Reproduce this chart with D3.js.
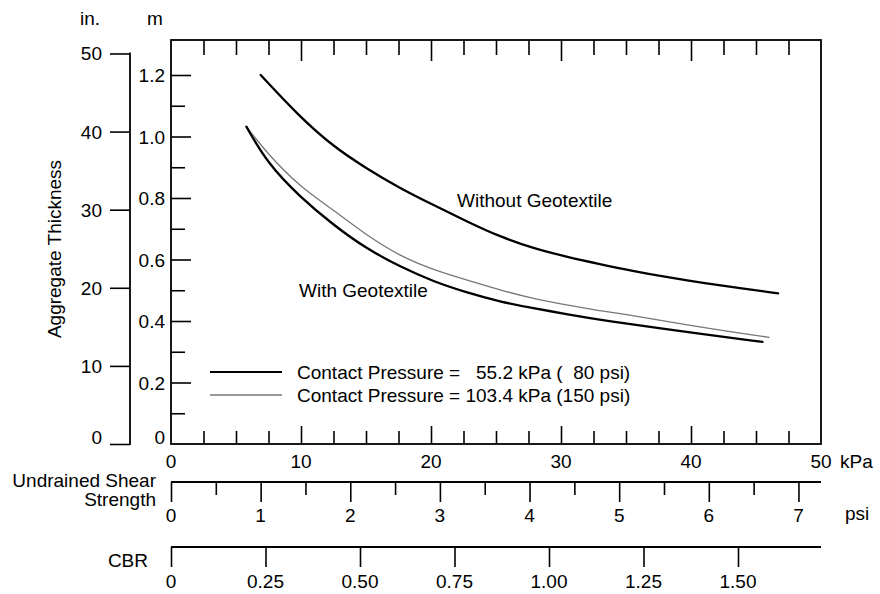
<!DOCTYPE html>
<html>
<head>
<meta charset="utf-8">
<script src="https://cdn.jsdelivr.net/npm/d3@7"></script>
<style>
  html, body { margin: 0; padding: 0; background: #fff; }
  svg { display: block; }
  text { font-family: "Liberation Sans", Arial, Helvetica, sans-serif; fill: #000; }
</style>
</head>
<body>
<svg id="chart" width="880" height="594"></svg>
<script>
// ---------------- data ----------------
const kpaTickLabels = [0, 10, 20, 30, 40, 50];
const psiTickLabels = [0, 1, 2, 3, 4, 5, 6, 7];
const cbrTickLabels = [0, 0.25, 0.50, 0.75, 1.00, 1.25, 1.50];
const inchTickLabels = [0, 10, 20, 30, 40, 50];
const meterTickLabels = [0, 0.2, 0.4, 0.6, 0.8, 1.0, 1.2];

// Without geotextile (contact pressure 55.2 kPa)
const withoutKpa = [6.9, 9.9, 12.5, 15.0, 17.6, 20.2, 22.8, 25.3, 27.9, 30.4, 33.0, 35.5, 38.1, 40.7, 43.2, 46.7];
const withoutM   = [1.200, 1.064, 0.967, 0.897, 0.832, 0.777, 0.723, 0.674, 0.636, 0.609, 0.585, 0.563, 0.543, 0.525, 0.510, 0.490];

// With geotextile, 55.2 kPa (80 psi)
const with80Kpa = [5.8, 7.4, 9.9, 12.5, 15.0, 17.6, 20.2, 22.8, 25.3, 27.9, 30.4, 33.0, 40.7, 45.5];
const with80M   = [1.032, 0.914, 0.804, 0.712, 0.636, 0.577, 0.528, 0.492, 0.463, 0.441, 0.423, 0.403, 0.358, 0.332];

// With geotextile, 103.4 kPa (150 psi)
const with150Kpa = [5.8, 7.4, 9.9, 12.5, 15.0, 17.6, 20.2, 22.8, 25.3, 27.9, 30.4, 33.0, 34.5, 40.7, 46.0];
const with150M   = [1.032, 0.945, 0.837, 0.761, 0.680, 0.611, 0.566, 0.533, 0.501, 0.472, 0.452, 0.433, 0.425, 0.380, 0.347];

const legendLabels = ["Contact Pressure =   55.2 kPa (  80 psi)", "Contact Pressure = 103.4 kPa (150 psi)"];

// ---------------- layout ----------------
const svg = d3.select("#chart");
const FS = 19;
const L = 171, R = 821, T = 40, B = 444;

const x = d3.scaleLinear().domain([0, 50]).range([L, R]);           // kPa
const y = d3.scaleLinear().domain([0, 1.2]).range([B, 75]);         // m
const yIn = d3.scaleLinear().domain([0, 50]).range([y(0), y(50 * 0.0254)]); // inches
const xPsi = d3.scaleLinear().domain([0, 50 / 6.895]).range([L, R]);
const xCbr = d3.scaleLinear().domain([0, 1.5]).range([L, 738]);

svg.append("rect").attr("width", 880).attr("height", 594).attr("fill", "#fff");

// frame
svg.append("rect").attr("x", L).attr("y", T).attr("width", R - L).attr("height", B - T)
  .attr("fill", "none").attr("stroke", "#000").attr("stroke-width", 1.8);

function noDomain(g) { g.select(".domain").remove(); g.selectAll("text").remove(); g.selectAll("line").attr("stroke-width", 1.6); }

const kMinor = d3.range(2.5, 50, 2.5).filter(v => v % 10 !== 0);
const kMajor = [10, 20, 30, 40];

// bottom ticks (pointing up)
svg.append("g").attr("transform", `translate(0,${B})`).call(d3.axisTop(x).tickValues(kMinor).tickSize(13)).call(noDomain);
svg.append("g").attr("transform", `translate(0,${B})`).call(d3.axisTop(x).tickValues(kMajor).tickSize(18)).call(noDomain);
// top ticks (pointing down)
svg.append("g").attr("transform", `translate(0,${T})`).call(d3.axisBottom(x).tickValues(kMinor).tickSize(15)).call(noDomain);
svg.append("g").attr("transform", `translate(0,${T})`).call(d3.axisBottom(x).tickValues(kMajor).tickSize(21)).call(noDomain);

// kPa labels
svg.append("g").selectAll("text").data(kpaTickLabels).join("text")
  .attr("x", d => x(d)).attr("y", 468).attr("text-anchor", "middle").attr("font-size", FS).text(d => d);
svg.append("text").attr("x", 840).attr("y", 468).attr("font-size", FS).text("kPa");

// left m axis ticks (pointing right, into plot)
const mMinor = d3.range(0.1, 1.25, 0.2);
const mMajor = [0.2, 0.4, 0.6, 0.8, 1.0, 1.2];
svg.append("g").attr("transform", `translate(${L},0)`).call(d3.axisLeft(y).tickValues(mMinor).tickSize(-14)).call(noDomain);
svg.append("g").attr("transform", `translate(${L},0)`).call(d3.axisLeft(y).tickValues(mMajor).tickSize(-20)).call(noDomain);
svg.append("g").selectAll("text").data(meterTickLabels).join("text")
  .attr("x", 165).attr("y", d => y(d) + 7 - (d === 0 ? 7 : 0)).attr("text-anchor", "end").attr("font-size", FS)
  .text(d => d === 0 ? "0" : d3.format(".1f")(d));
svg.append("text").attr("x", 155).attr("y", 25).attr("text-anchor", "middle").attr("font-size", FS).text("m");

// inches axis
const inX = 130;
svg.append("line").attr("x1", inX).attr("x2", inX).attr("y1", yIn(50) - 1).attr("y2", yIn(0) + 1)
  .attr("stroke", "#000").attr("stroke-width", 1.8);
svg.append("g").attr("transform", `translate(${inX},0)`).call(d3.axisLeft(yIn).tickValues(inchTickLabels).tickSize(20)).call(noDomain);
svg.append("g").selectAll("text").data(inchTickLabels).join("text")
  .attr("x", 102).attr("y", d => yIn(d) + 7 - (d === 0 ? 7 : 0)).attr("text-anchor", "end").attr("font-size", FS).text(d => d);
svg.append("text").attr("x", 90).attr("y", 25).attr("text-anchor", "middle").attr("font-size", FS).text("in.");

svg.append("text").attr("transform", "translate(61,249) rotate(-90)").attr("text-anchor", "middle")
  .attr("font-size", FS).text("Aggregate Thickness");

// psi axis
const psiY = 482;
svg.append("line").attr("x1", L).attr("x2", R).attr("y1", psiY).attr("y2", psiY).attr("stroke", "#000").attr("stroke-width", 2);
svg.append("g").attr("transform", `translate(0,${psiY})`)
  .call(d3.axisBottom(xPsi).tickValues(d3.range(0.5, 7.1, 1)).tickSize(13)).call(noDomain);
svg.append("g").attr("transform", `translate(0,${psiY})`)
  .call(d3.axisBottom(xPsi).tickValues(psiTickLabels).tickSize(20)).call(noDomain);
svg.append("g").selectAll("text").data(psiTickLabels).join("text")
  .attr("x", d => xPsi(d)).attr("y", 522).attr("text-anchor", "middle").attr("font-size", FS).text(d => d);
svg.append("text").attr("x", 845).attr("y", 520).attr("font-size", FS).text("psi");
svg.append("text").attr("x", 156).attr("y", 487).attr("text-anchor", "end").attr("font-size", FS).text("Undrained Shear");
svg.append("text").attr("x", 156).attr("y", 506).attr("text-anchor", "end").attr("font-size", FS).text("Strength");

// CBR axis
const cbrY = 547;
svg.append("line").attr("x1", L).attr("x2", R).attr("y1", cbrY).attr("y2", cbrY).attr("stroke", "#000").attr("stroke-width", 2);
svg.append("g").attr("transform", `translate(0,${cbrY})`)
  .call(d3.axisBottom(xCbr).tickValues(cbrTickLabels).tickSize(20)).call(noDomain);
svg.append("g").selectAll("text").data(cbrTickLabels).join("text")
  .attr("x", d => xCbr(d)).attr("y", 588).attr("text-anchor", "middle").attr("font-size", FS)
  .text(d => d === 0 ? "0" : d3.format(".2f")(d));
svg.append("text").attr("x", 148).attr("y", 567).attr("text-anchor", "end").attr("font-size", FS).text("CBR");

// curves
const line = d3.line().x(d => x(d[0])).y(d => y(d[1])).curve(d3.curveBasis);
const series = [
  { k: withoutKpa, m: withoutM, color: "#000", w: 2.3 },
  { k: with150Kpa, m: with150M, color: "#777", w: 1.3 },
  { k: with80Kpa, m: with80M, color: "#000", w: 2.3 }
];
series.forEach(s => {
  svg.append("path").datum(d3.zip(s.k, s.m)).attr("d", line)
    .attr("fill", "none").attr("stroke", s.color).attr("stroke-width", s.w).attr("stroke-linecap", "round");
});

svg.append("text").attr("x", 457).attr("y", 207).attr("font-size", FS).text("Without Geotextile");
svg.append("text").attr("x", 299).attr("y", 297).attr("font-size", FS).text("With Geotextile");

// legend
const legY = [372, 395];
const legStyles = [{ color: "#000", w: 2 }, { color: "#777", w: 1.3 }];
legendLabels.forEach((t, i) => {
  svg.append("line").attr("x1", 210).attr("x2", 282).attr("y1", legY[i]).attr("y2", legY[i])
    .attr("stroke", legStyles[i].color).attr("stroke-width", legStyles[i].w);
  svg.append("text").attr("x", 297).attr("y", legY[i] + 7).attr("font-size", FS)
    .style("white-space", "pre").text(t);
});
</script>
</body>
</html>
